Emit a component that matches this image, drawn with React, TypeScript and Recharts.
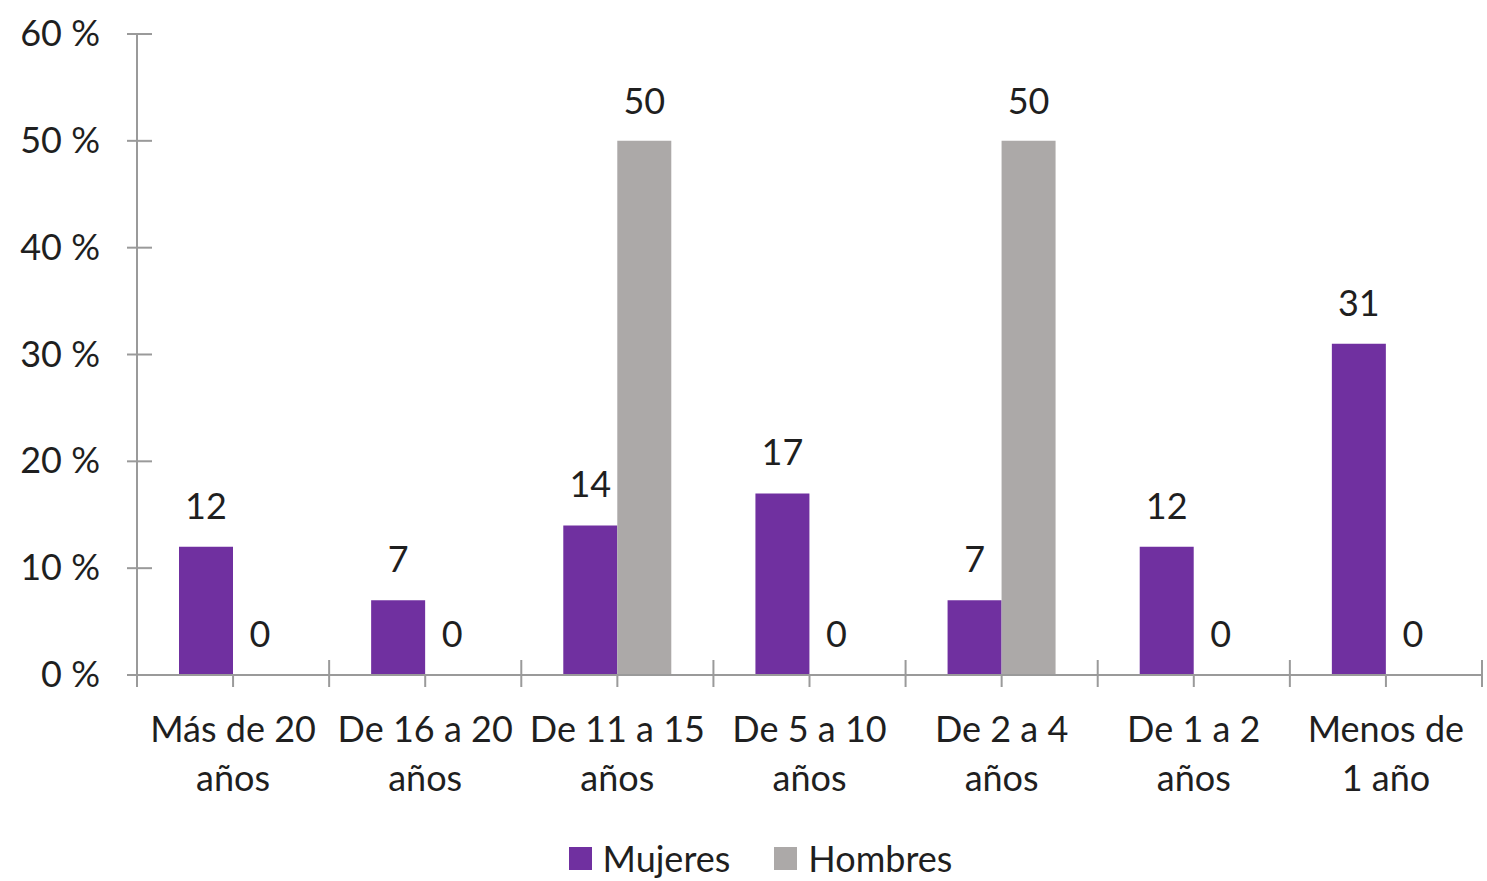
import React from "react";
import { Bar, BarChart, LabelList, Legend, XAxis, YAxis } from "recharts";

const categories = [
  "Más de 20\naños",
  "De 16 a 20\naños",
  "De 11 a 15\naños",
  "De 5 a 10\naños",
  "De 2 a 4\naños",
  "De 1 a 2\naños",
  "Menos de\n1 año"
];
const mujeres = [12, 7, 14, 17, 7, 12, 31];
const hombres = [0, 0, 50, 0, 50, 0, 0];
const yTicks = [0, 10, 20, 30, 40, 50, 60];

const FONT = "Lato, 'Open Sans', sans-serif";
const FONT_SIZE = 36;
const AXIS_COLOR = "#9a9a9a";
const TEXT_COLOR = "#1f1f1f";
const PURPLE = "#7030a0";
const GREY = "#aca9a8";

const data = categories.map((category, i) => ({
  category,
  mujeres: mujeres[i],
  hombres: hombres[i]
}));

function CategoryTick(props: any): React.JSX.Element {
  const { x, y, payload, index, width, visibleTicksCount } = props;
  const band = width / visibleTicksCount;
  const lines = String(payload.value).split("\n");
  const isLast = index === visibleTicksCount - 1;
  return (
    <g>
      <line x1={x} y1={y} x2={x} y2={y + 12} stroke={AXIS_COLOR} strokeWidth={2} />
      <line x1={x - band / 2} y1={y - 15} x2={x - band / 2} y2={y + 12} stroke={AXIS_COLOR} strokeWidth={2} />
      {isLast && (
        <line x1={x + band / 2} y1={y - 15} x2={x + band / 2} y2={y + 12} stroke={AXIS_COLOR} strokeWidth={2} />
      )}
      {lines.map((line, i) => (
        <text
          key={i}
          x={x}
          y={y + 67 + i * 49}
          textAnchor="middle"
          fontSize={FONT_SIZE}
          fontFamily={FONT}
          fill={TEXT_COLOR}
        >
          {line}
        </text>
      ))}
    </g>
  );
}

function PercentTick(props: any): React.JSX.Element {
  const { x, y, payload } = props;
  return (
    <g>
      <line x1={x - 10} y1={y} x2={x + 15} y2={y} stroke={AXIS_COLOR} strokeWidth={2} />
      <text
        x={x - 37}
        y={y + 12}
        textAnchor="end"
        fontSize={FONT_SIZE}
        fontFamily={FONT}
        fill={TEXT_COLOR}
      >
        {`${payload.value} %`}
      </text>
    </g>
  );
}

function LegendContent(): React.JSX.Element {
  const items = [
    { label: "Mujeres", color: PURPLE },
    { label: "Hombres", color: GREY }
  ];
  return (
    <div
      style={{
        display: "flex",
        justifyContent: "center",
        alignItems: "center",
        height: 46,
        paddingLeft: 34,
        paddingTop: 0,
        boxSizing: "border-box",
        fontFamily: FONT,
        fontSize: FONT_SIZE,
        lineHeight: "36px",
        color: TEXT_COLOR,
        gap: 44
      }}
    >
      {items.map((item) => (
        <div key={item.label} style={{ display: "flex", alignItems: "center", gap: 11 }}>
          <span style={{ width: 23, height: 23, background: item.color, display: "inline-block" }} />
          <span>{item.label}</span>
        </div>
      ))}
    </div>
  );
}

export default function App(): React.JSX.Element {
  return (
    <div style={{ position: "absolute", left: 0, top: 0, width: 1487, height: 881, background: "#fff", overflow: "hidden" }}>
      <BarChart
        width={1487}
        height={881}
        data={data}
        margin={{ top: 34, right: 5, left: 0, bottom: 0 }}
        barGap={0}
        barSize={54}
      >
        <XAxis
          dataKey="category"
          interval={0}
          height={160}
          tickSize={0}
          tickMargin={0}
          tickLine={false}
          axisLine={{ stroke: AXIS_COLOR, strokeWidth: 2 }}
          tick={<CategoryTick />}
        />
        <YAxis
          width={137}
          domain={[0, 60]}
          ticks={yTicks}
          interval={0}
          tickSize={0}
          tickMargin={0}
          tickLine={false}
          axisLine={{ stroke: AXIS_COLOR, strokeWidth: 2 }}
          tick={<PercentTick />}
        />
        <Legend verticalAlign="bottom" content={<LegendContent />} wrapperStyle={{ width: 1487, left: 0 }} />
        <Bar dataKey="mujeres" name="Mujeres" fill={PURPLE} isAnimationActive={false}>
          <LabelList dataKey="mujeres" position="top" offset={28} fontSize={FONT_SIZE} fontFamily={FONT} fill={TEXT_COLOR} />
        </Bar>
        <Bar dataKey="hombres" name="Hombres" fill={GREY} minPointSize={1} isAnimationActive={false}>
          <LabelList dataKey="hombres" position="top" offset={27} fontSize={FONT_SIZE} fontFamily={FONT} fill={TEXT_COLOR} />
        </Bar>
      </BarChart>
    </div>
  );
}
